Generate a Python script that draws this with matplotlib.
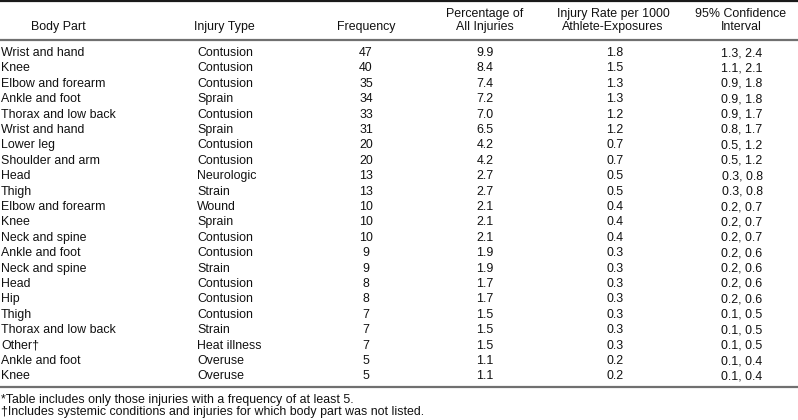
import matplotlib.pyplot as plt

plt.rcParams["font.family"] = ["Liberation Sans", "DejaVu Sans"]

body_parts = ["Wrist and hand", "Knee", "Elbow and forearm", "Ankle and foot",
              "Thorax and low back", "Wrist and hand", "Lower leg",
              "Shoulder and arm", "Head", "Thigh", "Elbow and forearm", "Knee",
              "Neck and spine", "Ankle and foot", "Neck and spine", "Head",
              "Hip", "Thigh", "Thorax and low back", "Other\u2020",
              "Ankle and foot", "Knee"]
injury_types = ["Contusion", "Contusion", "Contusion", "Sprain", "Contusion",
                "Sprain", "Contusion", "Contusion", "Neurologic", "Strain",
                "Wound", "Sprain", "Contusion", "Contusion", "Strain",
                "Contusion", "Contusion", "Contusion", "Strain", "Heat illness",
                "Overuse", "Overuse"]
frequency = [47, 40, 35, 34, 33, 31, 20, 20, 13, 13, 10, 10, 10, 9, 9, 8, 8,
             7, 7, 7, 5, 5]
percentage = [9.9, 8.4, 7.4, 7.2, 7.0, 6.5, 4.2, 4.2, 2.7, 2.7, 2.1, 2.1, 2.1,
              1.9, 1.9, 1.7, 1.7, 1.5, 1.5, 1.5, 1.1, 1.1]
rate = [1.8, 1.5, 1.3, 1.3, 1.2, 1.2, 0.7, 0.7, 0.5, 0.5, 0.4, 0.4, 0.4, 0.3,
        0.3, 0.3, 0.3, 0.3, 0.3, 0.3, 0.2, 0.2]
ci = ["1.3, 2.4", "1.1, 2.1", "0.9, 1.8", "0.9, 1.8", "0.9, 1.7", "0.8, 1.7",
      "0.5, 1.2", "0.5, 1.2", "0.3, 0.8", "0.3, 0.8", "0.2, 0.7", "0.2, 0.7",
      "0.2, 0.7", "0.2, 0.6", "0.2, 0.6", "0.2, 0.6", "0.2, 0.6", "0.1, 0.5",
      "0.1, 0.5", "0.1, 0.5", "0.1, 0.4", "0.1, 0.4"]
headers = ["Body Part", "Injury Type", "Frequency",
           "Percentage of\nAll Injuries",
           "Injury Rate per 1000\nAthlete-Exposures",
           "95% Confidence\nInterval"]
footnotes = ["*Table includes only those injuries with a frequency of at least 5.",
             "\u2020Includes systemic conditions and injuries for which body part was not listed."]

fs = 8.9
ink = "#111111"
fig = plt.figure(figsize=(7.98, 4.2), dpi=100)
ax = fig.add_axes([0, 0, 1, 1])
ax.set_xlim(0, 798)
ax.set_ylim(420, 0)
ax.axis("off")

# rules
ax.plot([0, 798], [0.8, 0.8], color="#1a1a1a", lw=1.6)
ax.plot([0, 798], [39.5, 39.5], color="#707070", lw=1.6)
ax.plot([0, 798], [386.5, 386.5], color="#707070", lw=1.6)

# headers
header_x = [58, 224, 366, 485, 613, 741]
for hx, h in zip(header_x, headers):
    ax.text(hx, 33, h, ha="center", va="bottom", fontsize=fs,
            linespacing=1.12, color=ink)

# rows
y0, dy = 53, 15.4
for i in range(len(body_parts)):
    y = y0 + i * dy
    ax.text(1, y, body_parts[i], ha="left", va="center", fontsize=fs, color=ink)
    ax.text(197, y, injury_types[i], ha="left", va="center", fontsize=fs, color=ink)
    ax.text(366, y, str(frequency[i]), ha="center", va="center", fontsize=fs, color=ink)
    ax.text(485, y, "%.1f" % percentage[i], ha="center", va="center", fontsize=fs, color=ink)
    ax.text(615, y, "%.1f" % rate[i], ha="center", va="center", fontsize=fs, color=ink)
    ax.text(742, y, ci[i], ha="center", va="center", fontsize=fs, color=ink)

# footnotes
for j, note in enumerate(footnotes):
    ax.text(1, 400 + j * 12.5, note, ha="left", va="center", fontsize=fs, color=ink)

fig.savefig("out.png", dpi=100)
